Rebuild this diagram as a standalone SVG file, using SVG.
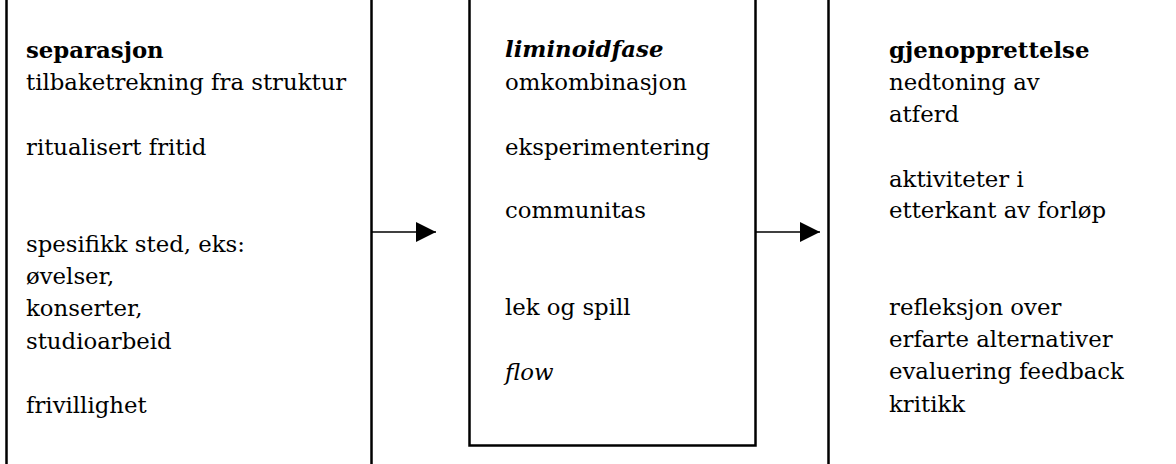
<svg xmlns="http://www.w3.org/2000/svg" width="1176" height="464" viewBox="0 0 1176 464">
  <style>
    .box { fill: #ffffff; stroke: #000000; stroke-width: 2.5; }
    .t { font-family: "DejaVu Serif", "Liberation Serif", serif; font-size: 22.8px; fill: #000000; }
    .b { font-weight: bold; }
    .i { font-style: italic; }
    .link { stroke: #000000; stroke-width: 1.5; fill: none; }
  </style>
  <defs>
    <marker id="head" viewBox="0 0 20 20" refX="20" refY="10" markerWidth="20" markerHeight="20" markerUnits="userSpaceOnUse" orient="auto">
      <path d="M0,0 L20,10 L0,20 Z" fill="#000000"/>
    </marker>
  </defs>
  <rect width="1176" height="464" fill="#ffffff"/>

  <!-- Phase 1: separation -->
  <g id="separasjon">
    <rect class="box" x="6.5" y="-10" width="365" height="490"/>
    <text class="t">
      <tspan class="b" x="26" y="58">separasjon</tspan>
      <tspan x="26" y="90">tilbaketrekning fra struktur</tspan>
      <tspan x="26" y="155">ritualisert fritid</tspan>
      <tspan x="26" y="252">spesifikk sted, eks:</tspan>
      <tspan x="26" y="284">øvelser,</tspan>
      <tspan x="26" y="316">konserter,</tspan>
      <tspan x="26" y="349">studioarbeid</tspan>
      <tspan x="26" y="413">frivillighet</tspan>
    </text>
  </g>

  <!-- Phase 2: liminoid phase -->
  <g id="liminoidfase">
    <rect class="box" x="469.5" y="-10" width="286" height="455.5"/>
    <text class="t">
      <tspan class="b i" x="505" y="57">liminoidfase</tspan>
      <tspan x="505" y="90">omkombinasjon</tspan>
      <tspan x="505" y="155">eksperimentering</tspan>
      <tspan x="505" y="218">communitas</tspan>
      <tspan x="505" y="315">lek og spill</tspan>
      <tspan class="i" x="505" y="380">flow</tspan>
    </text>
  </g>

  <!-- Phase 3: restoration -->
  <g id="gjenopprettelse">
    <rect class="box" x="828.5" y="-10" width="400" height="490"/>
    <text class="t">
      <tspan class="b" x="889" y="58">gjenopprettelse</tspan>
      <tspan x="889" y="90">nedtoning av</tspan>
      <tspan x="889" y="122">atferd</tspan>
      <tspan x="889" y="187">aktiviteter i</tspan>
      <tspan x="889" y="218">etterkant av forløp</tspan>
      <tspan x="889" y="315">refleksjon over</tspan>
      <tspan x="889" y="347">erfarte alternativer</tspan>
      <tspan x="889" y="379">evaluering feedback</tspan>
      <tspan x="889" y="412">kritikk</tspan>
    </text>
  </g>

  <!-- Connectors between phases -->
  <g id="connectors">
    <line class="link" x1="372" y1="232" x2="436" y2="232" marker-end="url(#head)"/>
    <line class="link" x1="756" y1="232" x2="820" y2="232" marker-end="url(#head)"/>
  </g>
</svg>
